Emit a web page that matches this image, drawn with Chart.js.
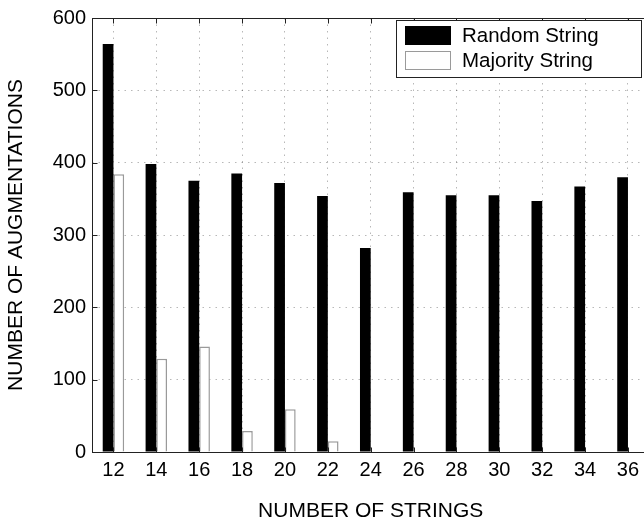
<!DOCTYPE html>
<html><head><meta charset="utf-8">
<script src="https://cdn.jsdelivr.net/npm/chart.js@4/dist/chart.umd.min.js"></script>
<style>html,body{margin:0;padding:0;overflow:hidden;background:#fff}#wrap{width:660px;height:525px}</style>
</head><body><div id="wrap"><canvas id="c" width="660" height="525"></canvas></div>
<script>
const categories = ['12','14','16','18','20','22','24','26','28','30','32','34','36'];
const randomString = [564,398,375,385,372,354,282,359,355,355,347,367,380];
const majorityString = [384,129,146,29,59,15,0,0,0,0,0,0,0];
const seriesLabels = ['Random String','Majority String'];
const yMin = 0, yMax = 600, yStep = 100;
const xTitle = 'NUMBER OF STRINGS';
const yTitle = 'NUMBER OF AUGMENTATIONS';

const FONT = 'Liberation Sans, Arial, Helvetica, sans-serif';

const framePlugin = {
  id: 'frame',
  afterDatasetsDraw(chart) {
    const {ctx, chartArea: a, scales: {x, y}} = chart;
    ctx.save();
    ctx.strokeStyle = '#222';
    ctx.lineWidth = 1;
    const L = Math.round(a.left) + 0.5, R = Math.round(a.right) + 0.5;
    const T = Math.round(a.top) + 0.5, B = Math.round(a.bottom) + 0.5;
    ctx.strokeRect(L, T, R - L, B - T);
    ctx.beginPath();
    y.ticks.forEach(t => {
      const py = Math.round(y.getPixelForValue(t.value)) + 0.5;
      ctx.moveTo(L, py); ctx.lineTo(L + 5, py);
      ctx.moveTo(R, py); ctx.lineTo(R - 5, py);
    });
    x.ticks.forEach((t, i) => {
      const px = Math.round(x.getPixelForValue(i)) + 0.5;
      ctx.moveTo(px, T); ctx.lineTo(px, T + 5);
      ctx.moveTo(px, B); ctx.lineTo(px, B - 5);
    });
    ctx.stroke();

    // legend box
    const bx = 396.5, by = 20.5, bw = 245, bh = 57;
    ctx.fillStyle = '#fff';
    ctx.fillRect(bx, by, bw, bh);
    ctx.strokeStyle = '#222';
    ctx.strokeRect(bx, by, bw, bh);
    ctx.font = '20.5px ' + FONT;
    ctx.textBaseline = 'middle';
    ctx.textAlign = 'left';
    chart.data.datasets.forEach((ds, i) => {
      const sy = 26 + i * 25;
      ctx.fillStyle = ds.backgroundColor;
      ctx.fillRect(405, sy, 46, 19);
      ctx.strokeStyle = ds.backgroundColor === '#000' ? '#000' : '#9a9a9a';
      ctx.lineWidth = 1;
      ctx.strokeRect(405.5, sy + 0.5, 45, 18);
      ctx.fillStyle = '#000';
      ctx.fillText(ds.label, 462, sy + 10);
    });
    ctx.restore();
  }
};

new Chart(document.getElementById('c'), {
  type: 'bar',
  data: {
    labels: categories,
    datasets: [
      {label: seriesLabels[0], data: randomString, backgroundColor: '#000', borderColor: '#000', borderWidth: 0,
       categoryPercentage: 0.5, barPercentage: 1.0},
      {label: seriesLabels[1], data: majorityString, backgroundColor: '#fff', borderColor: '#9a9a9a',
       borderWidth: c => (c.raw > 0 ? 1.5 : 0),
       categoryPercentage: 0.5, barPercentage: 1.0}
    ]
  },
  options: {
    responsive: false,
    animation: false,
    layout: {padding: {left: 0, top: 13, right: 10.6, bottom: 0}},
    plugins: {legend: {display: false}, tooltip: {enabled: false}},
    scales: {
      x: {
        type: 'category',
        offset: true,
        grid: {offset: false, color: 'rgba(0,0,0,0.28)', lineWidth: 1, drawTicks: false},
        border: {display: false, dash: [1.5, 5]},
        ticks: {font: {size: 20, family: FONT}, color: '#000', padding: 6, maxRotation: 0, autoSkip: false},
        title: {display: true, text: xTitle, font: {size: 21, family: FONT}, color: '#000', padding: {top: 0, bottom: 1.5}},
        afterFit(s) { s.height = 73; }
      },
      y: {
        min: yMin, max: yMax,
        grid: {color: 'rgba(0,0,0,0.28)', lineWidth: 1, drawTicks: false},
        border: {display: false, dash: [1.5, 5]},
        ticks: {stepSize: yStep, font: {size: 20, family: FONT}, color: '#000', padding: 6},
        title: {display: true, text: yTitle, font: {size: 21, family: FONT}, color: '#000', padding: {top: 4, bottom: 0}},
        afterFit(s) { s.width = 92; }
      }
    }
  },
  plugins: [framePlugin]
});
</script>
</body></html>
